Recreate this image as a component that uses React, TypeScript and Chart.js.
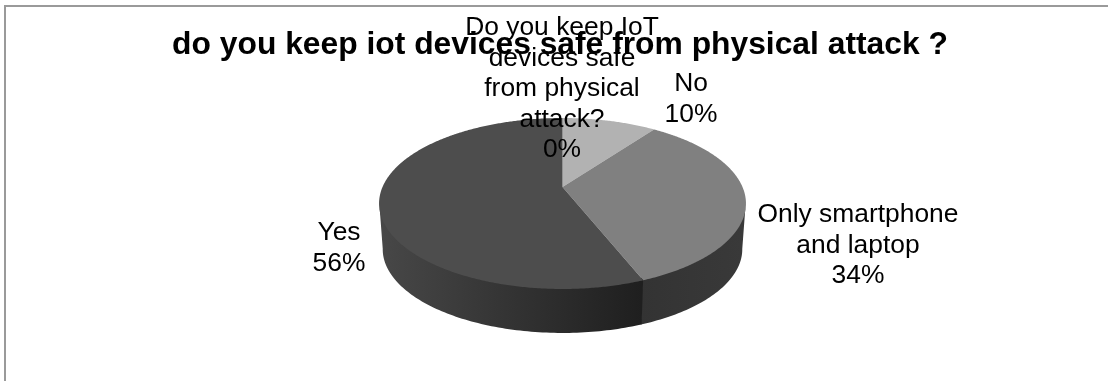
import React, { useEffect, useRef } from "react";
import { Chart, registerables } from "chart.js";

Chart.register(...registerables);

const chartTitle = "do you keep iot devices safe from physical attack ?";
const categories = ["Do you keep IoT devices safe from physical attack?", "No", "Only smartphone and laptop", "Yes"];
const shares = [0, 10, 34, 56];
const labelLines = [
  ["Do you keep IoT", "devices safe", "from physical", "attack?"],
  ["No"],
  ["Only smartphone", "and laptop"],
  ["Yes"],
];
const faceColors = ["#b2b2b2", "#b2b2b2", "#808080", "#4d4d4d"];
const wallStops = [
  ["#333333", "#333333"],
  ["#333333", "#333333"],
  ["#333333", "#393939"],
  ["#474747", "#1f1f1f"],
];

// Disc seen in perspective: the hub sits above the centre of the projected ellipse.
const HUB = { x: 562.5, y: 187 };
const AX = 180;
const AY = 82.3;
const TILT = 0.193;
const WALL_DROP = 46;
const WALL_SHRINK = 0.98;
const WALL_V_MIN = 0.187;
// The wall runs a little under the face and under its neighbour so no seam shows.
const WALL_TUCK = 3;
const WALL_OVERLAP = 0.004;

// Label placement: centre x and first baseline for each slice.
const labelSpots = [
  { x: 562, y: 35 },
  { x: 691, y: 91 },
  { x: 858, y: 222 },
  { x: 339, y: 240 },
];
const LINE_GAP = 30.5;
const FONT = '"Liberation Sans", Arial, sans-serif';

function project(angle: number, wall: boolean) {
  const u = Math.cos(angle);
  const v = Math.sin(angle);
  const w = 1 - TILT * v;
  const s = wall ? WALL_SHRINK : 1;
  return {
    x: HUB.x + (s * AX * u) / w,
    y: HUB.y + (s * AY * v) / w + (wall ? WALL_DROP : 0),
  };
}

const perspectivePie = {
  id: "perspectivePie",
  beforeDraw(chart: any) {
    const { ctx, width, height } = chart;
    ctx.save();
    ctx.fillStyle = "#ffffff";
    ctx.fillRect(0, 0, width, height);
    ctx.strokeStyle = "#9a9a9a";
    ctx.lineWidth = 2;
    ctx.beginPath();
    ctx.moveTo(5, height);
    ctx.lineTo(5, 6);
    ctx.lineTo(width, 6);
    ctx.stroke();
    ctx.restore();
  },
  beforeDatasetDraw(chart: any, args: any) {
    const { ctx } = chart;
    const arcs = args.meta.data;
    const step = Math.PI / 180;
    const vLimit = Math.asin(WALL_V_MIN);
    const wallFrom = vLimit;
    const wallTo = Math.PI - vLimit;

    ctx.save();
    // Side wall, front part only.
    arcs.forEach((arc: any, i: number) => {
      const a0 = Math.max(arc.startAngle, wallFrom);
      const a1 = Math.min(arc.endAngle + WALL_OVERLAP, wallTo);
      if (a1 <= a0) return;
      const left = project(a1, true).x;
      const right = project(a0, true).x;
      const grad = ctx.createLinearGradient(Math.min(left, right), 0, Math.max(left, right), 0);
      grad.addColorStop(0, wallStops[i][0]);
      grad.addColorStop(1, wallStops[i][1]);
      ctx.fillStyle = grad;
      ctx.beginPath();
      for (let a = a0; a < a1; a += step) {
        const p = project(a, false);
        ctx.lineTo(p.x, p.y - WALL_TUCK);
      }
      const e = project(a1, false);
      ctx.lineTo(e.x, e.y - WALL_TUCK);
      for (let a = a1; a > a0; a -= step) {
        const p = project(a, true);
        ctx.lineTo(p.x, p.y);
      }
      const b = project(a0, true);
      ctx.lineTo(b.x, b.y);
      ctx.closePath();
      ctx.fill();
    });

    // Top face.
    arcs.forEach((arc: any, i: number) => {
      if (arc.endAngle - arc.startAngle <= 0) return;
      ctx.fillStyle = faceColors[i];
      ctx.beginPath();
      ctx.moveTo(HUB.x, HUB.y);
      for (let a = arc.startAngle; a < arc.endAngle; a += step / 2) {
        const p = project(a, false);
        ctx.lineTo(p.x, p.y);
      }
      const e = project(arc.endAngle, false);
      ctx.lineTo(e.x, e.y);
      ctx.closePath();
      ctx.fill();
    });
    ctx.restore();
    return false;
  },
  afterDatasetsDraw(chart: any) {
    const { ctx } = chart;
    ctx.save();
    ctx.fillStyle = "#000000";
    ctx.font = `26.4px ${FONT}`;
    ctx.textAlign = "center";
    ctx.textBaseline = "alphabetic";
    categories.forEach((_, i) => {
      const lines = [...labelLines[i], `${shares[i]}%`];
      lines.forEach((line, n) => {
        ctx.fillText(line, labelSpots[i].x, labelSpots[i].y + n * LINE_GAP);
      });
    });
    ctx.restore();
  },
};

export default function App() {
  const ref = useRef<HTMLCanvasElement>(null);

  useEffect(() => {
    document.body.style.margin = "0";
    const chart = new Chart(ref.current!, {
      type: "pie",
      data: {
        labels: categories,
        datasets: [{ data: shares, backgroundColor: faceColors, borderWidth: 0 }],
      },
      options: {
        responsive: false,
        animation: false,
        layout: { padding: { left: 12 } },
        plugins: {
          legend: { display: false },
          tooltip: { enabled: false },
          title: {
            display: true,
            text: chartTitle,
            color: "#000000",
            font: { family: FONT, size: 31.8, weight: "bold" },
            padding: { top: 26, bottom: 8 },
          },
        },
      },
      plugins: [perspectivePie],
    });
    return () => chart.destroy();
  }, []);

  return <canvas ref={ref} width={1108} height={381} style={{ display: "block" }} />;
}
